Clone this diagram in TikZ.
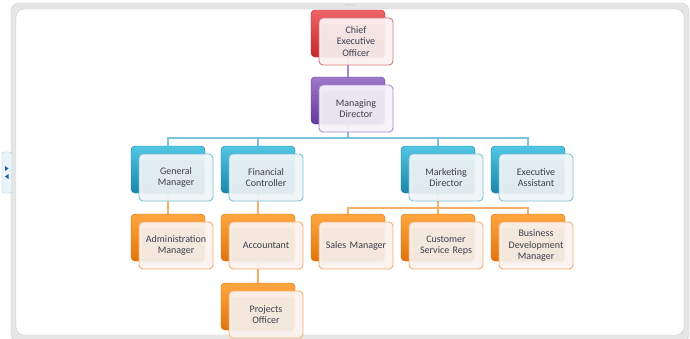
\documentclass[tikz,border=0pt]{standalone}
\usepackage{fontspec}
\setmainfont{Carlito}
\definecolor{redT}{HTML}{EE6466}\definecolor{redB}{HTML}{C4282C}
\definecolor{redF}{HTML}{FBF3F3}\definecolor{redL}{HTML}{D9787A}
\definecolor{purT}{HTML}{9E78CC}\definecolor{purB}{HTML}{66399A}
\definecolor{purF}{HTML}{F6F3F9}\definecolor{purL}{HTML}{A98DCB}
\definecolor{bluT}{HTML}{52C6E2}\definecolor{bluB}{HTML}{1A86AC}
\definecolor{bluF}{HTML}{F0F6F8}\definecolor{bluL}{HTML}{7CC2D8}
\definecolor{oraT}{HTML}{FFA640}\definecolor{oraB}{HTML}{E2740C}
\definecolor{oraF}{HTML}{FAF3EE}\definecolor{oraL}{HTML}{F6AE6E}
\definecolor{txt}{HTML}{3E3E4E}
\definecolor{frameG}{HTML}{E6E6E6}\definecolor{frameL}{HTML}{C9C9C9}
\definecolor{tabF}{HTML}{E8F4F9}\definecolor{tabL}{HTML}{A9CBD8}
\definecolor{tabA}{HTML}{1F5F9F}
\pgfdeclarelayer{framelayer}\pgfdeclarelayer{lines}
\pgfsetlayers{framelayer,lines,main}
\tikzset{
  bk/.style={rounded corners=4pt,minimum width=74pt,minimum height=47pt,inner sep=0pt},
  bkred/.style={bk,top color=redT,bottom color=redB,draw=redB!90!black},
  bkpur/.style={bk,top color=purT,bottom color=purB,draw=purB!90!black},
  bkblu/.style={bk,top color=bluT,bottom color=bluB,draw=bluB!90!black},
  bkora/.style={bk,top color=oraT,bottom color=oraB,draw=oraB!90!black},
  fr/.style={rounded corners=4pt,minimum width=74pt,minimum height=47pt,inner sep=1pt,
    text width=72pt,align=center,font=\fontsize{10}{11.5}\selectfont,text=txt,
    line width=0.9pt,fill opacity=0.94,text opacity=1,
    path picture={\fill[black,opacity=0.018,rounded corners=2pt]
      ([shift={(3pt,-6pt)}]path picture bounding box.north west) rectangle
      ([shift={(-9pt,6pt)}]path picture bounding box.south east);}},
  frred/.style={fr,draw=redL,fill=redF},
  frpur/.style={fr,draw=purL,fill=purF},
  frblu/.style={fr,draw=bluL,fill=bluF},
  frora/.style={fr,draw=oraL,fill=oraF},
  ln/.style={line width=1.4pt},
}
\newcommand\orgunit[5]{%
  \node[bk#4] (#1-b) at (#2,#3) {};
  \node[fr#4] (#1) at (#2+8,#3+8) {#5};}
\begin{document}
\begin{tikzpicture}[x=1pt,y=-1pt]
\useasboundingbox (0,0) rectangle (690,338);
\begin{pgfonlayer}{framelayer}
  \fill[frameG,draw=frameL,rounded corners=8pt] (11,3) rectangle (689,342);
  \fill[white,draw=frameL,rounded corners=8pt] (16,9) rectangle (684,335);
  \foreach \i in {0,...,4} \fill[gray!70] (346+2*\i,5) circle (0.5pt);
  \filldraw[fill=tabF,draw=tabL,rounded corners=2pt] (2,152) rectangle (12,193);
\end{pgfonlayer}
\orgunit{ceo}{348}{33.5}{red}{Chief\\Executive\\Officer}
\orgunit{md}{348}{100.5}{pur}{Managing\\Director}
\orgunit{gm}{168}{169.5}{blu}{General\\Manager}
\orgunit{fc}{258}{169.5}{blu}{Financial\\Controller}
\orgunit{mkt}{438}{169.5}{blu}{Marketing\\Director}
\orgunit{ea}{528}{169.5}{blu}{Executive\\Assistant}
\orgunit{adm}{168}{237.5}{ora}{Administration\\Manager}
\orgunit{acc}{258}{237.5}{ora}{Accountant}
\orgunit{sal}{348}{237.5}{ora}{Sales Manager}
\orgunit{csr}{438}{237.5}{ora}{Customer\\Service Reps}
\orgunit{bdm}{528}{237.5}{ora}{Business\\Development\\Manager}
\orgunit{po}{258}{306.5}{ora}{Projects\\Officer}
\coordinate (bus1) at (348,138);
\coordinate (bus2) at (438,208);
\begin{pgfonlayer}{lines}
  \draw[ln,purL] (ceo-b) -- (md-b);
  \draw[ln,bluL] (md-b) -- (bus1) -| (gm-b);
  \draw[ln,bluL] (bus1) -| (fc-b);
  \draw[ln,bluL] (bus1) -| (mkt-b);
  \draw[ln,bluL] (bus1) -| (ea-b);
  \draw[ln,oraL] (gm-b) -- (adm-b);
  \draw[ln,oraL] (fc-b) -- (acc-b);
  \draw[ln,oraL] (acc-b) -- (po-b);
  \draw[ln,oraL] (mkt-b) -- (bus2) -| (sal-b);
  \draw[ln,oraL] (bus2) -| (bdm-b);
  \draw[ln,oraL] (bus2) -- (csr-b);
\end{pgfonlayer}
\fill[tabA] (5,166) -- (8.5,168.5) -- (5,171) -- cycle;
\fill[tabA] (8.5,174) -- (5,176.5) -- (8.5,179) -- cycle;
\foreach \i in {0,...,3} \fill[gray!60] (12,170+3*\i) circle (0.5pt);
\end{tikzpicture}
\end{document}
